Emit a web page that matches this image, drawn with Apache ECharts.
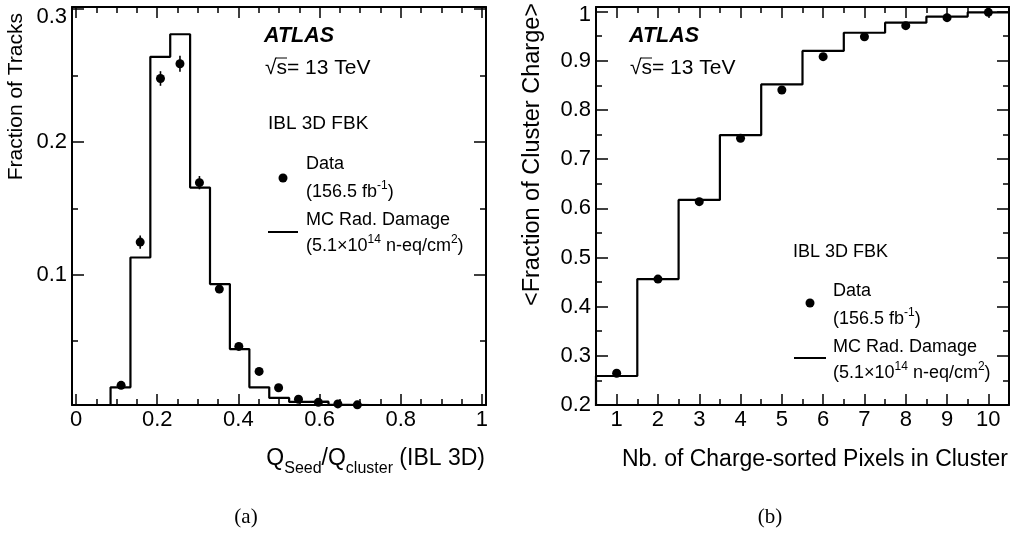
<!DOCTYPE html>
<html>
<head>
<meta charset="utf-8">
<title>IBL 3D FBK charge sharing</title>
<script src="https://cdn.jsdelivr.net/npm/echarts@6/dist/echarts.min.js"></script>
<style>
  html, body { margin: 0; padding: 0; background: #fff; }
  #chart { width: 1014px; height: 538px; }
</style>
</head>
<body>
<div id="chart"></div>
<script>
// (a) seed charge fraction, bins of Q_seed/Q_cluster
const leftBinEdges = [-0.01, 0.085, 0.134, 0.183, 0.232, 0.281, 0.330, 0.379, 0.427, 0.476, 0.525, 0.573, 0.622, 0.671, 1.01]
const leftMC = [0, 0.0153, 0.113, 0.264, 0.281, 0.1656, 0.093, 0.0441, 0.0153, 0.0073, 0.0043, 0.0045, 0.0022, 0.001]
const leftDataX = [0.111, 0.158, 0.208, 0.256, 0.304, 0.353, 0.401, 0.451, 0.499, 0.548, 0.597, 0.645, 0.693]
const leftDataY = [0.0168, 0.1246, 0.2477, 0.2588, 0.1693, 0.0892, 0.0461, 0.0273, 0.0150, 0.0063, 0.0040, 0.0028, 0.0021]
const leftDataErr = [0.002, 0.005, 0.0055, 0.006, 0.005, 0.003, 0.002, 0.002, 0.001, 0.001, 0.001, 0.001, 0.001]
const leftXTicks = [0, 0.2, 0.4, 0.6, 0.8, 1]
const leftXMinor = [0.05, 0.1, 0.15, 0.25, 0.3, 0.35, 0.45, 0.5, 0.55, 0.65, 0.7, 0.75, 0.85, 0.9, 0.95]
const leftYTicks = [0.1, 0.2, 0.3]
const leftYMinor = [0.05, 0.15, 0.25]

// (b) cumulative charge fraction vs number of pixels
const rightBinEdges = [0.5, 1.5, 2.5, 3.5, 4.5, 5.5, 6.5, 7.5, 8.5, 9.5, 10.5]
const rightMC = [0.259, 0.456, 0.617, 0.749, 0.852, 0.920, 0.957, 0.9775, 0.990, 0.9986]
const rightDataX = [1, 2, 3, 4, 5, 6, 7, 8, 9, 10]
const rightDataY = [0.2645, 0.456, 0.6135, 0.7424, 0.8406, 0.9084, 0.949, 0.9714, 0.9877, 0.9986]
const rightDataErr = [0.002, 0.002, 0.002, 0.002, 0.002, 0.002, 0.002, 0.002, 0.002, 0.007]
const rightXTicks = [1, 2, 3, 4, 5, 6, 7, 8, 9, 10]
const rightXMinor = [1.5, 2.5, 3.5, 4.5, 5.5, 6.5, 7.5, 8.5, 9.5]
const rightYTicks = [0.2, 0.3, 0.4, 0.5, 0.6, 0.7, 0.8, 0.9, 1]
const rightYMinor = [0.25, 0.35, 0.45, 0.55, 0.65, 0.75, 0.85, 0.95]

const FONT = 'Liberation Sans, Arial, Helvetica, sans-serif'

function stepPoints (edges, vals) {
  let pts = [[edges[0], 0]]
  vals.forEach((v, i) => {
    pts.push([edges[i], v])
    pts.push([edges[i + 1], v])
  })
  return pts
}

function fmt (v) {
  if (Number.isInteger(v)) return String(v)
  return v.toFixed(1)
}

// one frame side: major ticks (with or without labels) + minor ticks
function xPair (grid, pos, min, max, major, minor, labels) {
  return [
    {
      type: 'value', gridIndex: grid, position: pos, min: min, max: max,
      axisLine: {show: true, onZero: false, lineStyle: {color: '#000', width: 2}},
      axisTick: {show: true, inside: true, length: 11, customValues: major, lineStyle: {color: '#000', width: 1.5}},
      axisLabel: {show: labels, customValues: major, margin: 4, color: '#000', fontFamily: FONT, fontSize: 22, formatter: fmt},
      splitLine: {show: false}
    },
    {
      type: 'value', gridIndex: grid, position: pos, min: min, max: max,
      axisLine: {show: false, onZero: false},
      axisTick: {show: true, inside: true, length: 6, customValues: minor, lineStyle: {color: '#000', width: 1.5}},
      axisLabel: {show: false},
      splitLine: {show: false}
    }
  ]
}

function yPair (grid, pos, min, max, major, minor, labels, topPad) {
  let top = major[major.length - 1]
  return [
    {
      type: 'value', gridIndex: grid, position: pos, min: min, max: max,
      axisLine: {show: true, onZero: false, lineStyle: {color: '#000', width: 2}},
      axisTick: {show: true, inside: true, length: 12, customValues: major, lineStyle: {color: '#000', width: 1.5}},
      axisLabel: {
        show: labels, customValues: major, margin: 5, color: '#000', fontFamily: FONT, fontSize: 22,
        formatter: v => (v === top ? '{top|' + fmt(v) + '}' : fmt(v)),
        rich: {top: {fontFamily: FONT, fontSize: 22, color: '#000', padding: [topPad, 0, 0, 0]}}
      },
      splitLine: {show: false}
    },
    {
      type: 'value', gridIndex: grid, position: pos, min: min, max: max,
      axisLine: {show: false, onZero: false},
      axisTick: {show: true, inside: true, length: 6, customValues: minor, lineStyle: {color: '#000', width: 1.5}},
      axisLabel: {show: false},
      splitLine: {show: false}
    }
  ]
}

function errorBars (xs, ys, es, axis) {
  return {
    type: 'custom',
    xAxisIndex: axis,
    yAxisIndex: axis,
    data: xs.map((x, i) => [x, ys[i], es[i]]),
    encode: {x: 0, y: 1},
    renderItem (params, api) {
      let x = api.value(0)
      let y = api.value(1)
      let e = api.value(2)
      let p1 = api.coord([x, y - e])
      let p2 = api.coord([x, y + e])
      return {
        type: 'line',
        shape: {x1: p1[0], y1: p1[1], x2: p2[0], y2: p2[1]},
        style: {stroke: '#000', lineWidth: 1.6}
      }
    }
  }
}

function txt (x, y, text, size, extra) {
  return {
    type: 'text', x: x, y: y,
    style: Object.assign({
      text: text, fill: '#000', fontFamily: FONT, fontSize: size,
      align: 'left', verticalAlign: 'middle'
    }, extra || {})
  }
}

// √s with the bar of the root drawn over the s
function sqrtS (x, y) {
  return [
    txt(x, y, '√s= 13 TeV', 21),
    {type: 'line', shape: {x1: x + 11, y1: y - 10, x2: x + 22, y2: y - 10}, style: {stroke: '#000', lineWidth: 1}}
  ]
}

const supRich = {sup: {fontFamily: FONT, fontSize: 12, lineHeight: 12, verticalAlign: 'top', fill: '#000'}}

function legend (x0, dotY, textX, firstY, lineY, lineX1, lineX2) {
  return [
    {type: 'circle', shape: {cx: x0, cy: dotY, r: 4.5}, style: {fill: '#000'}},
    txt(textX, firstY, 'Data', 18),
    txt(textX, firstY + 28, '(156.5 fb{sup|-1})', 18, {lineHeight: 24, rich: supRich}),
    txt(textX, firstY + 56, 'MC Rad. Damage', 18),
    {type: 'line', shape: {x1: lineX1, y1: lineY, x2: lineX2, y2: lineY}, style: {stroke: '#000', lineWidth: 2}},
    txt(textX, firstY + 82, '(5.1×10{sup|14} n-eq/cm{sup|2})', 18, {lineHeight: 24, rich: supRich})
  ]
}

let chart = echarts.init(document.getElementById('chart'), null, {renderer: 'canvas'})

let xAxes = [].concat(
  xPair(0, 'bottom', -0.01, 1.01, leftXTicks, leftXMinor, true),
  xPair(0, 'top', -0.01, 1.01, leftXTicks, leftXMinor, false),
  xPair(1, 'bottom', 0.5, 10.5, rightXTicks, rightXMinor, true),
  xPair(1, 'top', 0.5, 10.5, rightXTicks, rightXMinor, false)
)
let yAxes = [].concat(
  yPair(0, 'left', 0.002, 0.3015, leftYTicks, leftYMinor, true, 16),
  yPair(0, 'right', 0.002, 0.3015, leftYTicks, leftYMinor, false, 0),
  yPair(1, 'left', 0.2, 1.0094, rightYTicks, rightYMinor, true, 7),
  yPair(1, 'right', 0.2, 1.0094, rightYTicks, rightYMinor, false, 0)
)

let option = {
  animation: false,
  backgroundColor: '#fff',
  grid: [
    {left: 72, top: 7, width: 414, height: 398},
    {left: 596, top: 7, width: 413, height: 398}
  ],
  xAxis: xAxes,
  yAxis: yAxes,
  series: [
    {
      name: 'MC Rad. Damage', type: 'line', xAxisIndex: 0, yAxisIndex: 0,
      data: stepPoints(leftBinEdges, leftMC), symbol: 'none',
      lineStyle: {color: '#000', width: 2.2}
    },
    errorBars(leftDataX, leftDataY, leftDataErr, 0),
    {
      name: 'Data', type: 'scatter', xAxisIndex: 0, yAxisIndex: 0,
      data: leftDataX.map((x, i) => [x, leftDataY[i]]),
      symbol: 'circle', symbolSize: 9, itemStyle: {color: '#000', opacity: 1}
    },
    {
      name: 'MC Rad. Damage', type: 'line', xAxisIndex: 4, yAxisIndex: 4,
      data: stepPoints(rightBinEdges, rightMC), symbol: 'none',
      lineStyle: {color: '#000', width: 2.2}
    },
    errorBars(rightDataX, rightDataY, rightDataErr, 4),
    {
      name: 'Data', type: 'scatter', xAxisIndex: 4, yAxisIndex: 4,
      data: rightDataX.map((x, i) => [x, rightDataY[i]]),
      symbol: 'circle', symbolSize: 9, itemStyle: {color: '#000', opacity: 1}
    }
  ],
  graphic: [].concat(
    [
      // panel (a)
      txt(264, 36, 'ATLAS', 21.5, {fontWeight: 'bold', fontStyle: 'italic'}),
      txt(268, 124, 'IBL 3D FBK', 19),
      // panel (b)
      txt(629, 36, 'ATLAS', 21.5, {fontWeight: 'bold', fontStyle: 'italic'}),
      txt(793, 252, 'IBL 3D FBK', 18),
      // axis titles
      txt(485, 459, 'Q{sub|Seed}/Q{sub|cluster} (IBL 3D)', 23, {
        align: 'right', lineHeight: 36,
        rich: {sub: {fontFamily: FONT, fontSize: 16, lineHeight: 14, verticalAlign: 'bottom', fill: '#000'}}
      }),
      txt(1008, 460, 'Nb. of Charge-sorted Pixels in Cluster', 23, {align: 'right'}),
      Object.assign(txt(16, 13, 'Fraction of Tracks', 21, {align: 'right'}), {rotation: Math.PI / 2}),
      Object.assign(txt(533, 3, '<Fraction of Cluster Charge>', 23.5, {align: 'right'}), {rotation: Math.PI / 2}),
      // captions
      txt(246, 517, '(a)', 21, {align: 'center', fontFamily: 'Liberation Serif, Times New Roman, serif'}),
      txt(770, 517, '(b)', 21, {align: 'center', fontFamily: 'Liberation Serif, Times New Roman, serif'})
    ],
    sqrtS(265, 68),
    sqrtS(630, 68),
    legend(283, 178, 306, 164, 232, 268, 298),
    legend(810, 303, 833, 291, 358, 794, 826)
  )
}

chart.setOption(option)
window.addEventListener('resize', () => {
  chart.resize()
})
</script>
</body>
</html>
